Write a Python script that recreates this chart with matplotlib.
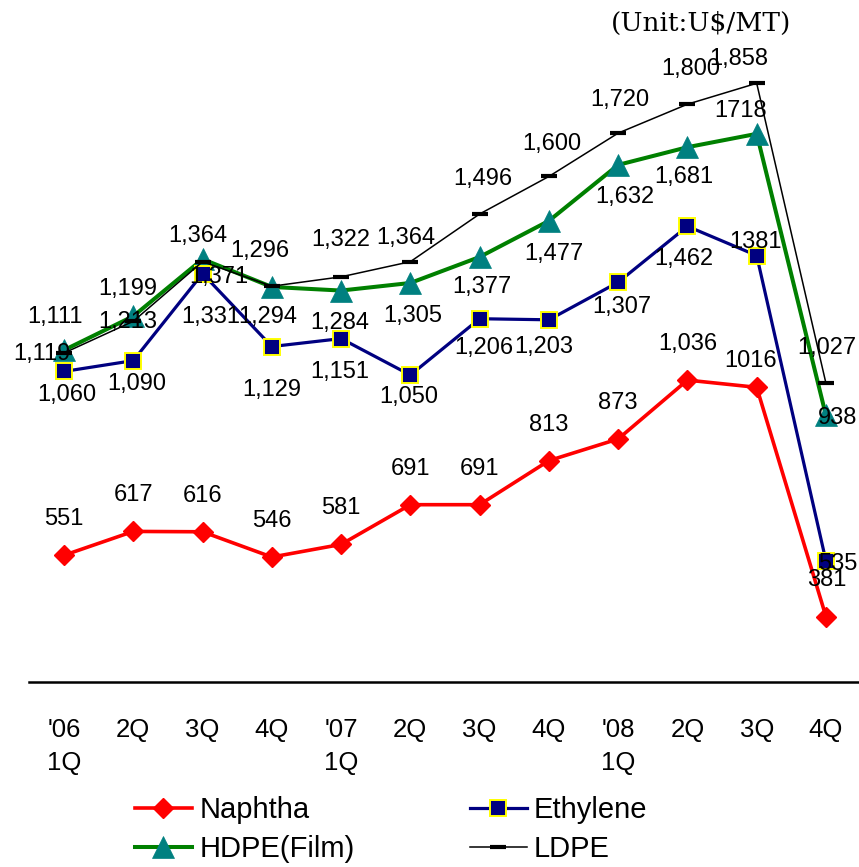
import matplotlib
matplotlib.use("Agg")
import matplotlib.pyplot as plt

# ---------------- data ----------------
quarters = ["'06\n1Q", "2Q", "3Q", "4Q", "'07\n1Q", "2Q", "3Q", "4Q",
            "'08\n1Q", "2Q", "3Q", "4Q"]
naphtha = [551, 617, 616, 546, 581, 691, 691, 813, 873, 1036, 1016, 381]
ethylene = [1060, 1090, 1331, 1129, 1151, 1050, 1206, 1203, 1307, 1462, 1381, 535]
hdpe = [1119, 1213, 1371, 1294, 1284, 1305, 1377, 1477, 1632, 1681, 1718, 938]
ldpe = [1111, 1199, 1364, 1296, 1322, 1364, 1496, 1600, 1720, 1800, 1858, 1027]
unit_text = "(Unit:U$/MT)"
# indices whose data label is written without a thousands separator
plain_naphtha = [10]
plain_ethylene = [10]
plain_hdpe = [10]
plain_ldpe = []

# label offsets (pixels, image coords: +x right, +y down) relative to marker
off_naphtha = [(0, -39)] * 10 + [(-6, -29), (1, -40)]
off_ethylene = [(3, 21), (3, 20), (8, 40), (0, 40), (-1, 30), (-2, 19),
                (4, 26), (-5, 24), (4, 22), (-4, 30), (-1, -17), (12, 0)]
off_hdpe = [(-22, 1), (-6, 3), (16, 15), (-4, 27), (-1, 29), (2, 30),
            (2, 27), (5, 30), (7, 29), (-4, 27), (-16, -26), (12, 0)]
off_ldpe = [(-9, -39), (-6, -35), (-5, -29), (-12, -38), (0, -40), (-5, -27),
            (3, -38), (3, -35), (2, -36), (3, -38), (-18, -27), (1, -38)]

plt.rcParams['font.family'] = ['Liberation Sans', 'DejaVu Sans']

W, H = 859, 867
fig = plt.figure(figsize=(W / 100, H / 100), dpi=100)
ax = fig.add_axes([29.4 / W, 1 - 682 / H, 831.2 / W, 650 / H])
x = list(range(len(quarters)))

l_n, = ax.plot(x, naphtha, color='#FF0000', lw=2.6, marker='D', ms=10.5,
               mfc='#FF0000', mec='#FF0000', mew=1, zorder=3, label='Naphtha')
l_h, = ax.plot(x, hdpe, color='#008000', lw=2.9, marker='^', ms=15.5,
               mfc='#008080', mec='#008080', mew=0.5, zorder=4, label='HDPE(Film)')
l_e, = ax.plot(x, ethylene, color='#000080', lw=2.3, marker='s', ms=11.5,
               mfc='#000080', mec='#FFFF00', mew=1.4, zorder=5, label='Ethylene')
l_l, = ax.plot(x, ldpe, color='black', lw=1.1, marker='_', ms=11,
               mec='black', mew=3, zorder=6, label='LDPE')

def fmt(v, i, plain):
    return f"{v}" if i in plain else f"{v:,}"

for vals, offs, plain in [(naphtha, off_naphtha, plain_naphtha),
                          (ethylene, off_ethylene, plain_ethylene),
                          (hdpe, off_hdpe, plain_hdpe),
                          (ldpe, off_ldpe, plain_ldpe)]:
    for i, v in enumerate(vals):
        dx, dy = offs[i]
        ax.annotate(fmt(v, i, plain), (i, v), xytext=(dx, -dy - 9),
                    textcoords='offset pixels', ha='center', va='baseline',
                    fontsize=17, color='black', zorder=10)

ax.set_xlim(-0.5, 11.5)
ax.set_ylim(200, 2000)
ax.set_xticks(x)
ax.set_xticklabels(quarters, linespacing=1.45)
ax.set_yticks([])
for s in ['top', 'right', 'left']:
    ax.spines[s].set_visible(False)
ax.spines['bottom'].set_linewidth(1.8)
ax.tick_params(axis='x', length=0, labelsize=18.5, pad=26)

fig.text(701 / W, 1 - 23 / H, unit_text, family='DejaVu Serif', fontsize=19,
         ha='center', va='center')

leg = fig.legend(handles=[l_n, l_h, l_e, l_l], loc='upper left',
                 bbox_to_anchor=(135 / W, 1 - 796 / H), ncol=2, frameon=False,
                 fontsize=21, handlelength=1.95, handletextpad=0.25,
                 columnspacing=3.95, labelspacing=0.38, borderpad=0,
                 borderaxespad=0, numpoints=1)

fig.savefig('out.png', dpi=100)
